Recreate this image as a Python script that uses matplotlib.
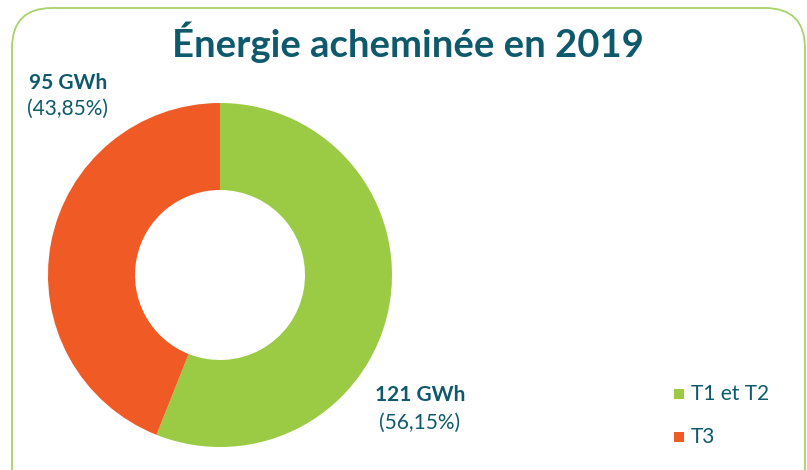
import matplotlib.pyplot as plt
from matplotlib.patches import FancyBboxPatch, Rectangle

labels = ['T1 et T2', 'T3']
values = [121, 95]
pcts = ['56,15%', '43,85%']
colors = ['#9BCB45', '#F05A24']
title = 'Énergie acheminée en 2019'

teal = '#0E5A6C'
plt.rcParams['font.family'] = ['Lato', 'DejaVu Sans']

fig = plt.figure(figsize=(8.07, 4.70), dpi=100)
ax = fig.add_axes([0, 0, 1, 1])
ax.set_xlim(0, 807)
ax.set_ylim(0, 470)
ax.set_aspect('equal')
ax.axis('off')

# rounded frame
frame = FancyBboxPatch((12, -60), 793, 522, boxstyle='round,pad=0,rounding_size=40',
                       fill=False, ec='#A8D26A', lw=1.3)
ax.add_patch(frame)

ax.pie(values, colors=colors, startangle=90, counterclock=False,
       center=(220, 195), radius=172, wedgeprops=dict(width=87, lw=0))
ax.set_xlim(0, 807)
ax.set_ylim(0, 470)

ax.text(408, 428, title, ha='center', va='center', fontsize=27.5, fontweight='bold', color=teal)

# value labels
ax.text(68, 387, f'{values[1]} GWh', ha='center', va='center', fontsize=15, fontweight='bold', color=teal)
ax.text(68, 361, f'({pcts[1]})', ha='center', va='center', fontsize=15, color=teal)
ax.text(420, 75, f'{values[0]} GWh', ha='center', va='center', fontsize=15, fontweight='bold', color=teal)
ax.text(420, 47, f'({pcts[0]})', ha='center', va='center', fontsize=15, color=teal)

# legend
for i, (lab, col) in enumerate(zip(labels, colors)):
    y = 76 - i * 43
    ax.add_patch(Rectangle((674, y - 5), 10, 10, color=col, lw=0))
    ax.text(691, y, lab, ha='left', va='center', fontsize=15, color=teal)

fig.savefig('out.png', dpi=100)
